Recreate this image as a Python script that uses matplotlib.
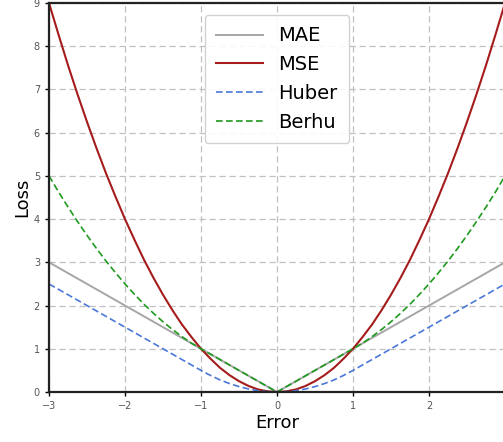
import matplotlib
matplotlib.use("Agg")
import matplotlib.pyplot as plt

x_err = [-3, -2.875, -2.75, -2.625, -2.5, -2.375, -2.25, -2.125, -2, -1.875, -1.75, -1.625,
         -1.5, -1.375, -1.25, -1.125, -1, -0.875, -0.75, -0.625, -0.5, -0.375, -0.25, -0.125, 0,
         0.125, 0.25, 0.375, 0.5, 0.625, 0.75, 0.875, 1, 1.125, 1.25, 1.375, 1.5,
         1.625, 1.75, 1.875, 2, 2.125, 2.25, 2.375, 2.5, 2.625, 2.75, 2.875, 3]
mae = [3, 2.875, 2.75, 2.625, 2.5, 2.375, 2.25, 2.125, 2, 1.875, 1.75, 1.625,
       1.5, 1.375, 1.25, 1.125, 1, 0.875, 0.75, 0.625, 0.5, 0.375, 0.25, 0.125, 0,
       0.125, 0.25, 0.375, 0.5, 0.625, 0.75, 0.875, 1, 1.125, 1.25, 1.375, 1.5,
       1.625, 1.75, 1.875, 2, 2.125, 2.25, 2.375, 2.5, 2.625, 2.75, 2.875, 3]
mse = [9, 8.27, 7.56, 6.89, 6.25, 5.64, 5.06, 4.52, 4, 3.52, 3.06, 2.64,
       2.25, 1.89, 1.56, 1.27, 1, 0.77, 0.56, 0.39, 0.25, 0.14, 0.06, 0.016, 0,
       0.016, 0.06, 0.14, 0.25, 0.39, 0.56, 0.77, 1, 1.27, 1.56, 1.89, 2.25,
       2.64, 3.06, 3.52, 4, 4.52, 5.06, 5.64, 6.25, 6.89, 7.56, 8.27, 9]
huber = [2.5, 2.375, 2.25, 2.125, 2, 1.875, 1.75, 1.625, 1.5, 1.375, 1.25, 1.125,
         1.0, 0.875, 0.75, 0.625, 0.5, 0.383, 0.28, 0.195, 0.125, 0.07, 0.03, 0.008, 0,
         0.008, 0.03, 0.07, 0.125, 0.195, 0.28, 0.383, 0.5, 0.625, 0.75, 0.875, 1.0,
         1.125, 1.25, 1.375, 1.5, 1.625, 1.75, 1.875, 2, 2.125, 2.25, 2.375, 2.5]
berhu = [5, 4.63, 4.28, 3.945, 3.625, 3.32, 3.03, 2.76, 2.5, 2.26, 2.03, 1.82,
         1.625, 1.445, 1.28, 1.13, 1, 0.875, 0.75, 0.625, 0.5, 0.375, 0.25, 0.125, 0,
         0.125, 0.25, 0.375, 0.5, 0.625, 0.75, 0.875, 1, 1.13, 1.28, 1.445, 1.625,
         1.82, 2.03, 2.26, 2.5, 2.76, 3.03, 3.32, 3.625, 3.945, 4.28, 4.63, 5]
x_ticks = [-3, -2, -1, 0, 1, 2, 3]
y_ticks = [0, 1, 2, 3, 4, 5, 6, 7, 8, 9]

fig = plt.figure(figsize=(5.03, 4.42), dpi=100)
ax = fig.add_axes([49/503, 50/442, 1.004 - 49/503, 389/442])

ax.plot(x_err, mae, color='#a6a6a6', lw=1.4, label='MAE')
ax.plot(x_err, mse, color='#a51c1c', lw=1.5, label='MSE')
ax.plot(x_err, huber, color='#4a78d8', lw=1.2, ls=(0, (4, 2)), label='Huber')
ax.plot(x_err, berhu, color='#1e9a1e', lw=1.2, ls=(0, (4, 2)), label='Berhu')

ax.set_xlim(-3, 3)
ax.set_ylim(0, 9)
ax.set_xticks(x_ticks)
ax.set_yticks(y_ticks)
ax.tick_params(labelsize=7, labelcolor='#555555', length=3, width=1)
ax.grid(True, color='#c0c0c0', ls=(0, (5, 3)), lw=0.9)
for s in ax.spines.values():
    s.set_linewidth(1.6)
    s.set_color('#222222')
ax.set_xlabel('Error', fontsize=13, labelpad=2)
ax.set_ylabel('Loss', fontsize=13, labelpad=2)
leg = ax.legend(loc='upper center', bbox_to_anchor=(0.5, 0.995), fontsize=14,
                handlelength=2.4, labelspacing=0.5, borderpad=0.6, framealpha=0.9)
fig.savefig('out.png', dpi=100)
